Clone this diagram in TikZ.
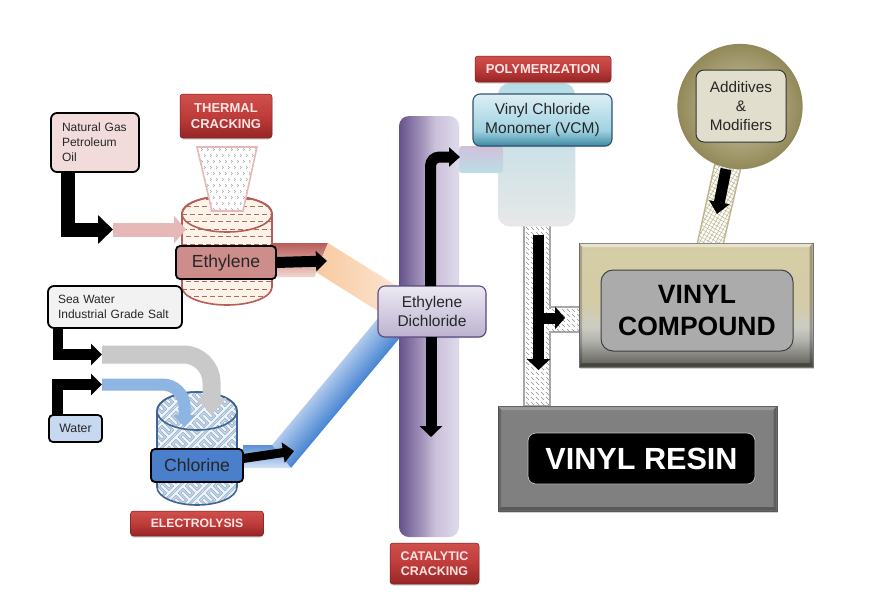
\documentclass[tikz,border=0pt]{standalone}
\usepackage{fontspec}
\setmainfont{Liberation Sans}
\usetikzlibrary{arrows.meta,patterns.meta,shadows,calc}
\definecolor{redT}{HTML}{D0504C}\definecolor{redM}{HTML}{BE3C3A}\definecolor{redB}{HTML}{962525}
\definecolor{ethline}{HTML}{B85C58}\definecolor{ethbg}{HTML}{FDF3E8}\definecolor{ethdash}{HTML}{A8705A}
\definecolor{chlline}{HTML}{3F6590}\definecolor{chlhatch}{HTML}{8AA8C8}\definecolor{chlbg}{HTML}{EEF3F9}
\definecolor{pinkarrow}{HTML}{E6B9B8}\definecolor{grayband}{HTML}{C9C9C9}\definecolor{blueband}{HTML}{8DB4E2}
\definecolor{pipeline}{HTML}{A8A8A8}\definecolor{addline}{HTML}{BDB68F}
\definecolor{vcmT}{HTML}{DDEFF5}\definecolor{vcmM}{HTML}{A0D2E2}\definecolor{vcmB}{HTML}{3E8AA3}
\definecolor{cD}{HTML}{5C5C54}\definecolor{cG}{HTML}{B5B5B0}\definecolor{cH}{HTML}{CCCCC4}\definecolor{cS}{HTML}{D3CCA8}\definecolor{cT}{HTML}{D4CDA4}
\definecolor{colA}{HTML}{65528C}\definecolor{colB}{HTML}{A697BD}\definecolor{colC}{HTML}{CBC1DA}\definecolor{colD}{HTML}{DEDAEB}
\definecolor{bandLight}{HTML}{B0CAEC}\definecolor{bandDark}{HTML}{4784D2}
\definecolor{peachA}{HTML}{F8C9A0}\definecolor{peachB}{HTML}{FBE5D2}
\definecolor{chlTop}{HTML}{5B8FD6}\definecolor{chlBot}{HTML}{D5E3F5}\definecolor{chlFill}{HTML}{4A7FCC}
\definecolor{vesTop}{HTML}{B5DCE6}\definecolor{vesBot}{HTML}{E8E8E8}
\definecolor{linkTop}{HTML}{CFC1DB}\definecolor{linkBot}{HTML}{BCDDE6}
\definecolor{ringOut}{HTML}{938A5A}\definecolor{ringIn}{HTML}{CFC9A8}
\pgfdeclareverticalshading{redlabel}{100bp}{color(0bp)=(redB);color(25bp)=(redB);color(50bp)=(redM);color(75bp)=(redT);color(100bp)=(redT)}
\pgfdeclareverticalshading{vcmbox}{100bp}{color(0bp)=(vcmB);color(25bp)=(vcmB);color(40bp)=(vcmM);color(75bp)=(vcmT);color(100bp)=(vcmT)}
\pgfdeclareverticalshading{compound}{100bp}{color(0bp)=(cD);color(25bp)=(cD);color(36bp)=(cG);color(41bp)=(cH);color(50bp)=(cS);color(75bp)=(cT);color(100bp)=(cT)}
\pgfdeclarehorizontalshading{column}{100bp}{color(0bp)=(colA);color(25bp)=(colA);color(45bp)=(colB);color(55bp)=(colC);color(75bp)=(colD);color(100bp)=(colD)}
\tikzset{
  every node/.style={inner sep=0pt,outer sep=0pt},
  labelbox/.style={rounded corners=3pt,shade,shading=redlabel,draw=redB!80!black,line width=.5pt,text=white!90!red,font=\bfseries,align=center,drop shadow={shadow xshift=0pt,shadow yshift=-1.5pt,opacity=.35}},
  srcbox/.style={draw=black,line width=1.8pt,rounded corners=6pt,align=left,text=black!85},
  procbox/.style={draw=black,line width=1.8pt,rounded corners=4pt,align=center,text=black!85},
  softbox/.style={rounded corners=7pt,align=center,text=black!85},
  blk/.style={draw=black,line width=#1,line join=miter},
  pipe/.style={draw=pipeline,line width=1.6pt,fill=white},
  bigbox/.style={drop shadow={shadow xshift=0.5pt,shadow yshift=-1.5pt,opacity=.35}}
}
\newcommand{\fs}[1]{\fontsize{#1}{1.2\dimexpr#1pt\relax}\selectfont}
\begin{document}
\begin{tikzpicture}[x=1pt,y=-1pt,line cap=butt]
\useasboundingbox (0,0) rectangle (890,600);
\fill[white] (0,0) rectangle (890,600);

% --- Ethylene cylinder
\def\ethbody{(182,213) -- (182,287) arc[start angle=180,end angle=360,x radius=45pt,y radius=18pt] -- (272,213) arc[start angle=0,end angle=180,x radius=45pt,y radius=17pt] -- cycle}
\fill[ethbg] \ethbody;
\begin{scope}
\clip \ethbody;
\foreach \yy [count=\c] in {199,206.5,...,306}{
  \pgfmathsetmacro\ph{mod(\c,2)*4}
  \draw[ethdash,line width=.7pt,dash pattern=on 4.5pt off 3.5pt,dash phase=\ph pt] (178,\yy) -- (276,\yy);
}
\end{scope}
\draw[ethline,line width=1.6pt] \ethbody;
\draw[ethline,line width=1.6pt] (227,214) ellipse[x radius=45pt,y radius=18pt];

% --- Cone
\def\conepath{(197,147) -- (257,147) -- (243,211) -- (212,211) -- cycle}
\fill[white] \conepath;
\begin{scope}
\clip \conepath;
\foreach \i in {0,...,10}{\foreach \j in {0,...,10}{
  \draw[black!35,line width=.45pt] ({195+\i*6+mod(\j,2)*3},{148+\j*6}) -- ++(1.5,1.5) -- ++(-1.5,1.5);
}}
\end{scope}
\draw[pinkarrow,line width=1.6pt] \conepath;

% --- Chlorine cylinder
\def\chlbody{(157,411) -- (157,487) arc[start angle=180,end angle=360,x radius=40pt,y radius=18pt] -- (237,411) arc[start angle=0,end angle=180,x radius=40pt,y radius=19pt] -- cycle}
\fill[chlbg] \chlbody;
\begin{scope}
\clip \chlbody;
\foreach \i in {0,...,12}{\foreach \j in {0,...,17}{
  \pgfmathtruncatemacro\m{mod(\i+\j,4)}
  \pgfmathsetmacro\xa{155+\i*7}\pgfmathsetmacro\ya{388+\j*7}
  \foreach \d in {2.3,4.6}{
  \ifnum\m<2
    \draw[chlhatch,line width=.65pt] (\xa,\ya+\d) -- (\xa+\d,\ya);
    \draw[chlhatch,line width=.65pt] (\xa+7,\ya+7-\d) -- (\xa+7-\d,\ya+7);
  \else
    \draw[chlhatch,line width=.65pt] (\xa,\ya+7-\d) -- (\xa+\d,\ya+7);
    \draw[chlhatch,line width=.65pt] (\xa+7,\ya+\d) -- (\xa+7-\d,\ya);
  \fi}
}}
\end{scope}
\draw[chlline,line width=1.6pt] \chlbody;
\draw[chlline,line width=1.6pt] (197,411) ellipse[x radius=40pt,y radius=19pt];

% --- Bands to the column
\shade[top color=ethline,middle color=ethline!55!pinkarrow,bottom color=ethbg!50!pinkarrow] (272,243) -- (328,243) -- (316,272) -- (315,277) -- (272,277) -- cycle;
\begin{scope}
\clip (272,445) -- (291,468) -- (405,332) -- (395,291) -- cycle;
\begin{scope}[transform canvas={shift={(272,445)},rotate=50.1}]
\shade[top color=bandLight,bottom color=bandDark] (-60,0) rectangle (240,29.3);
\end{scope}
\end{scope}
\shade[left color=peachA,right color=peachB] (328,243) -- (400,288) -- (400,325) -- (316,272) -- cycle;
\shade[top color=chlTop,bottom color=chlBot] (243,445) -- (272,445) -- (291,468) -- (243,468) -- cycle;

% --- VCM vessel, pipes
\def\pipestrokes#1#2#3#4{%
  \begin{scope}
  \clip (#1,#2) rectangle (#3,#4);
  \pgfmathtruncatemacro\nc{(#3-#1)/5}
  \pgfmathtruncatemacro\nr{(#4-#2)/5}
  \foreach \i in {0,...,\nc}{\foreach \j in {0,...,\nr}{
    \draw[black!45,line width=.5pt] ({#1+1+\i*5},{#2+1+\j*5}) -- ++(3,3);
  }}
  \end{scope}}
\draw[pipe] (524,220) rectangle (550,406);
\pipestrokes{525}{221}{549}{405}
\draw[pipe] (550,307) rectangle (582,332);
\fill[white] (549,308.5) rectangle (552,330.5);
\pipestrokes{551}{308}{581}{331}
\shade[top color=vesTop,middle color=vesTop!45!white,bottom color=vesBot,draw=black!10,line width=.5pt,rounded corners=12pt] (498,83) rectangle (575,226);
\shade[top color=linkTop,bottom color=linkBot,rounded corners=3pt] (459,146) rectangle (503,173);

% --- Additive pipe
\def\addpipe{(715,163) -- (741,167) -- (723,245) -- (697,245) -- cycle}
\fill[white] \addpipe;
\fill[pattern={Lines[angle=60,distance=3.5pt,line width=.5pt]},pattern color=addline] \addpipe;
\fill[pattern={Lines[angle=-30,distance=3.5pt,line width=.5pt]},pattern color=addline] \addpipe;
\draw[addline,line width=1.4pt] \addpipe;

% --- Column
\node[rounded corners=10pt,shade,shading=column,minimum width=60pt,minimum height=421pt] (column) at (429,326.5) {};

% --- Source boxes
\node[srcbox,fill=pinkarrow!50!white,minimum width=88pt,minimum height=59pt,text width=66pt,font=\fs{12}] (gas) at (95,142.5) {Natural Gas\\[.8pt]Petroleum\\[.8pt]Oil};
\node[srcbox,fill=black!5,minimum width=134pt,minimum height=42pt,text width=114pt,font=\fs{12}] (sea) at (115,307) {Sea Water\\[.8pt]Industrial Grade Salt};
\node[srcbox,rounded corners=4pt,fill=blueband!50!white,minimum width=53pt,minimum height=27pt,align=center,font=\fs{12.3}] (water) at (75.5,428.5) {Water};

% --- Coordinates of connector ends
\coordinate (gasOut) at (68,172);
\coordinate (gasTip) at (113,229.5);
\coordinate (ethIn) at (186,229.5);
\coordinate (seaOut) at (58,328);
\coordinate (seaTip) at (102,354.5);
\coordinate (waterOut) at (57.5,415);
\coordinate (waterTip) at (102,384.5);
\coordinate (grayTip) at (211.5,415);
\coordinate (blueTip) at (184.5,427);
\coordinate (ethOutTip) at (327,261);
\coordinate (chlOutTip) at (294,451);
\coordinate (vesselOut) at (538.5,235);
\coordinate (pipeTip) at (538.5,370);
\coordinate (branch) at (538.5,318);
\coordinate (branchTip) at (565,318);
\coordinate (colUpTop) at (430.5,157);
\coordinate (colTip) at (460,157);
\coordinate (colDownTip) at (431,437);
\coordinate (addOut) at (726,169);
\coordinate (addTip) at (717,214);

% --- Light bands over cylinders
\draw[pinkarrow,line width=14pt,-{Triangle[length=12pt,width=27pt]}] (gasTip) -- (ethIn);
\draw[grayband,line width=18pt,rounded corners=28pt,-{Triangle[length=17pt,width=29pt]}] (seaTip) -- (grayTip |- seaTip) -- (grayTip);
\draw[blueband,line width=12pt,rounded corners=22pt,-{Triangle[length=12pt,width=21pt]}] (waterTip) -- (blueTip |- waterTip) -- (blueTip);

% --- Process boxes
\node[procbox,fill=ethline!70!white,minimum width=100pt,minimum height=33pt,font=\fs{17.5}] (eth) at (226,262.5) {Ethylene};
\node[procbox,fill=chlFill,minimum width=92pt,minimum height=33pt,font=\fs{17.7}] (chl) at (197,465.5) {Chlorine};
\node[softbox,draw=colA!90!black,line width=1.1pt,top color=colD!60!white,bottom color=colB!60!colD,minimum width=108pt,minimum height=51pt,font=\fs{15.5},drop shadow={shadow xshift=0pt,shadow yshift=-1pt,opacity=.3}] (edc) at (432,311.5) {Ethylene\\[1pt]Dichloride};
\node[softbox,draw=chlline!80!black,line width=1.1pt,shade,shading=vcmbox,minimum width=139pt,minimum height=52pt,font=\fs{15.5},drop shadow={shadow xshift=0pt,shadow yshift=-1pt,opacity=.3}] (vcm) at (542.5,120) {Vinyl Chloride\\[1pt]Monomer (VCM)};

% --- Labels
\node[labelbox,minimum width=92pt,minimum height=44pt,font=\bfseries\fs{13}] (thermal) at (226,116) {THERMAL\\CRACKING};
\node[labelbox,minimum width=133pt,minimum height=25pt,font=\bfseries\fs{12.2}] (electro) at (197,523.5) {ELECTROLYSIS};
\node[labelbox,minimum width=136pt,minimum height=26pt,font=\bfseries\fs{13}] (poly) at (543,69) {POLYMERIZATION};
\node[labelbox,minimum width=89pt,minimum height=41pt,font=\bfseries\fs{12.5}] (catal) at (434.5,563.5) {CATALYTIC\\CRACKING};

% --- Additives
\node[circle,draw=ringOut,line width=1.2pt,inner color=ringIn,outer color=ringOut,minimum size=124pt,drop shadow={shadow xshift=0pt,shadow yshift=-1pt,opacity=.25}] (addc) at (740,106.5) {};
\node[softbox,rounded corners=8pt,draw=black!80,line width=1pt,fill=addline!45!white,minimum width=90pt,minimum height=72pt,font=\fs{15.3}] (add) at (741,106) {Additives\\[1pt]\&\\[1pt]Modifiers};

% --- Product boxes
\node[bigbox,shade,shading=compound,draw=black!55,line width=.7pt,minimum width=234pt,minimum height=124pt] (comp) at (696,305) {};
\fill[white,opacity=.45] (579.5,243.5) -- (812.5,243.5) -- (809.5,247) -- (582.5,247) -- cycle;
\fill[black,opacity=.25] (812.5,243.5) -- (812.5,366.5) -- (809.5,363) -- (809.5,247) -- cycle;
\fill[black,opacity=.2] (579.5,243.5) -- (579.5,366.5) -- (582,363) -- (582,247) -- cycle;
\fill[black,opacity=.3] (579.5,366.5) -- (812.5,366.5) -- (809.5,363) -- (582,363) -- cycle;
\node[rounded corners=12pt,draw=black!75,line width=1pt,fill=black!33,minimum width=192pt,minimum height=81pt,align=center,font=\bfseries\fs{26.5},text=black] (compin) at (697,310.5) {VINYL\\[1pt]COMPOUND};

\node[bigbox,fill=black!50,draw=black!65,line width=.7pt,minimum width=279pt,minimum height=105pt] (resin) at (637.5,458.5) {};
\fill[white,opacity=.2] (498.5,406.5) -- (776.5,406.5) -- (773.5,410) -- (501.5,410) -- cycle;
\fill[black,opacity=.25] (776.5,406.5) -- (776.5,510.5) -- (773.5,507) -- (773.5,410) -- cycle;
\fill[black,opacity=.2] (498.5,406.5) -- (498.5,510.5) -- (501,507) -- (501,410) -- cycle;
\fill[black,opacity=.3] (498.5,510.5) -- (776.5,510.5) -- (773.5,507) -- (501,507) -- cycle;
\node[rounded corners=8pt,draw=black!25,line width=.7pt,fill=black,minimum width=227pt,minimum height=51pt,font=\bfseries\fs{30.6},text=white] (resinin) at (641.5,458.5) {VINYL RESIN};

% --- Black connectors
\draw[blk=14pt,-{Triangle[length=15pt,width=28pt]}] (gasOut) |- (gasTip);
\draw[blk=10.5pt,-{Triangle[length=11pt,width=21pt]}] (seaOut) |- (seaTip);
\draw[blk=11pt,-{Triangle[length=11pt,width=21pt]}] (waterOut) |- (waterTip);
\draw[blk=11pt,-{Triangle[length=11pt,width=20pt]}] (eth.east) -- (ethOutTip);
\draw[blk=9pt,-{Triangle[length=11pt,width=20pt]}] (chl.east) ++(0,-7) -- (chlOutTip);
\draw[blk=11pt,rounded corners=9pt,-{Triangle[length=11pt,width=19pt]}] (colUpTop |- edc.north) -- (colUpTop) -- (colTip);
\draw[blk=11pt,-{Triangle[length=11pt,width=22pt]}] (colDownTip |- edc.south) -- (colDownTip);
\draw[blk=11pt,-{Triangle[length=11pt,width=23pt]}] (vesselOut) -- (pipeTip);
\draw[blk=11pt,-{Triangle[length=10pt,width=22pt]}] (branch) -- (branchTip);
\draw[blk=11pt,-{Triangle[length=12pt,width=20pt]}] (addOut) -- (addTip);
\end{tikzpicture}
\end{document}
